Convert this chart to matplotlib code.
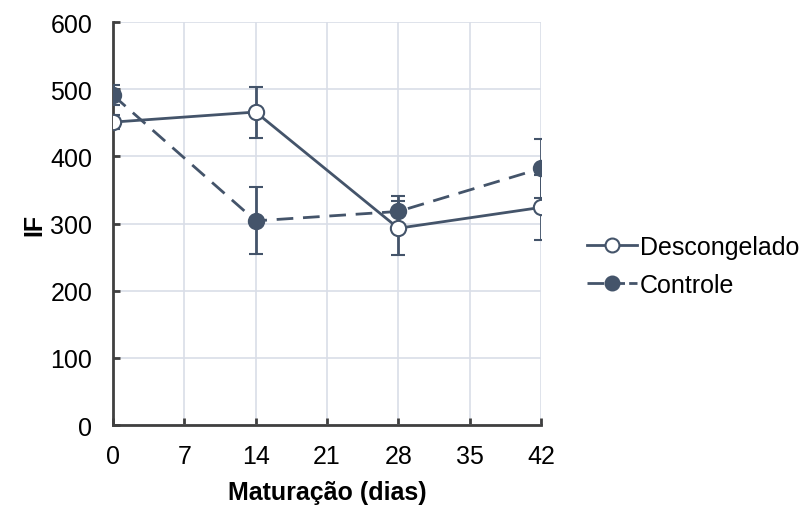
import matplotlib
matplotlib.use("Agg")
import matplotlib.pyplot as plt
from matplotlib.lines import Line2D

days = [0, 14, 28, 42]
descongelado = [451, 466, 293, 324]
descongelado_err = [10, 38, 40, 48]
controle = [491, 304, 318, 382]
controle_err = [15, 50, 23, 44]
xticks = [0, 7, 14, 21, 28, 35, 42]
yticks = [0, 100, 200, 300, 400, 500, 600]

plt.rcParams['font.family'] = ['Liberation Sans', 'DejaVu Sans']
color = '#44546A'
spine = '#404040'

fig = plt.figure(figsize=(8.09, 5.06), dpi=100)
ax = fig.add_axes([0.1397, 0.158, 0.529, 0.7965])

ax.errorbar(days, controle, yerr=controle_err, color=color, lw=2, dashes=(6, 3.5),
            marker='o', ms=11, mfc=color, mec=color, mew=1.5,
            ecolor=color, elinewidth=2, capsize=5, capthick=2, zorder=3)
ax.errorbar(days, descongelado, yerr=descongelado_err, color=color, lw=2,
            marker='o', ms=11, mfc='white', mec=color, mew=1.5,
            ecolor=color, elinewidth=2, capsize=5, capthick=2, zorder=4)

ax.set_xlim(0, 42)
ax.set_ylim(0, 600)
ax.set_xticks(xticks)
ax.set_yticks(yticks)
ax.grid(True, color='#D9DEE8', lw=1.2, zorder=0)
ax.set_axisbelow(True)
for s in ['top', 'right']:
    ax.spines[s].set_visible(False)
for s in ['left', 'bottom']:
    ax.spines[s].set_color(spine)
    ax.spines[s].set_linewidth(2)
ax.tick_params(direction='in', length=5, width=2, color=spine, labelsize=18,
               labelcolor='black')
ax.tick_params(axis='x', pad=14)
ax.tick_params(axis='y', pad=15)
ax.set_xlabel('Maturação (dias)', fontsize=18, fontweight='bold', labelpad=8)
ax.set_ylabel('IF', fontsize=18, fontweight='bold', labelpad=3)

h_desc = Line2D([], [], color=color, lw=2, marker='o', ms=10, mfc='white',
                mec=color, mew=1.5)
h_ctrl = Line2D([], [], color=color, lw=2, dashes=(6, 1.5), marker='o', ms=10,
                mfc=color, mec=color, mew=1.5)
fig.legend([h_desc, h_ctrl], ['Descongelado', 'Controle'],
           loc='center left', bbox_to_anchor=(0.698, 0.473), frameon=False,
           fontsize=18, handlelength=2.0, handletextpad=0.1, labelspacing=0.55)

fig.savefig('out.png', dpi=100)
